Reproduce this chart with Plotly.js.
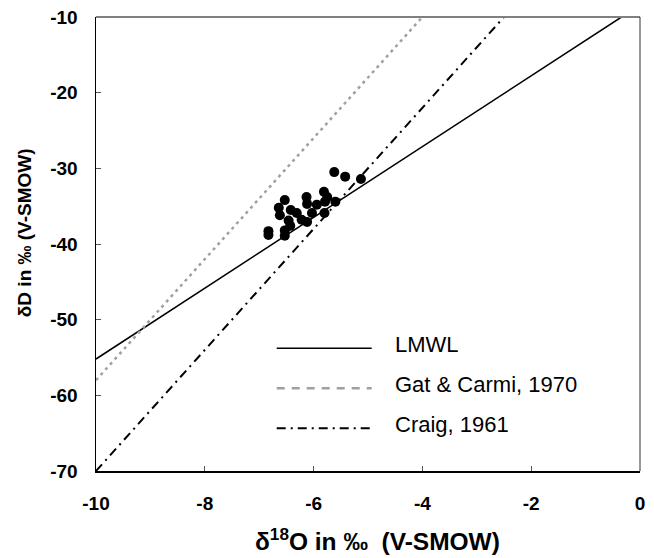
<!DOCTYPE html>
<html>
<head>
<meta charset="utf-8">
<script src="https://cdn.plot.ly/plotly-3.0.1.min.js"></script>
<style>html,body{margin:0;padding:0;background:#fff;}</style>
</head>
<body>
<div id="chart" style="width:654px;height:558px;"></div>
<script>
// Samples: delta18O and deltaD (permil, V-SMOW)
var sampleO18 = [-5.62, -5.42, -5.13, -6.53, -6.13, -5.81, -6.64, -6.42, -6.12, -5.94, -5.75, -5.60, -5.79,
                 -6.62, -6.31, -6.03, -5.80, -6.46, -6.22, -6.12, -6.83, -6.83, -6.53, -6.53, -6.43];
var sampleD   = [-30.5, -31.1, -31.4, -34.2, -33.8, -33.1, -35.2, -35.5, -34.7, -34.8, -33.8, -34.4, -34.4,
                 -36.2, -35.9, -35.9, -35.9, -36.9, -36.8, -37.1, -38.3, -38.8, -38.2, -38.9, -37.6];

// Water lines (end points)
var lmwlX  = [-10, -0.34];
var lmwlY  = [-55.2, -10];
var gatX   = [-10, -4];
var gatY   = [-58, -10];
var craigX = [-10, -2.5];
var craigY = [-70, -10];

var seriesNames = ['LMWL', 'Gat & Carmi, 1970', 'Craig, 1961'];

// Tick labels
var xTickVals = [-10, -8, -6, -4, -2, 0];
var xTickText = ['-10', '-8', '-6', '-4', '-2', '0'];
var yTickVals = [-70, -60, -50, -40, -30, -20, -10];
var yTickText = ['-70', '-60', '-50', '-40', '-30', '-20', '-10'];

var FONT = 'Liberation Sans, Arial, Helvetica, sans-serif';
var gatColor = '#a0a0a0';

var traces = [
  {x: lmwlX, y: lmwlY, mode: 'lines', name: seriesNames[0], showlegend: false,
   line: {color: '#000', width: 1.5}},
  {x: gatX, y: gatY, mode: 'lines', name: seriesNames[1], showlegend: false,
   line: {color: gatColor, width: 2.5, dash: '3px,4px'}},
  {x: craigX, y: craigY, mode: 'lines', name: seriesNames[2], showlegend: false,
   line: {color: '#000', width: 2, dash: '9px,5px,2px,5px'}},
  {x: sampleO18, y: sampleD, mode: 'markers', name: 'samples', showlegend: false,
   marker: {color: '#000', size: 10}}
];

// manual legend (long sample lines like the original)
var legX0 = 0.3322, legX1 = 0.5068, legTextX = 0.5465;
var legY = [0.2703, 0.1822, 0.0941];
var legStyles = [
  {color: '#000', width: 1.5, dash: 'solid'},
  {color: gatColor, width: 2.5, dash: '8px,7px'},
  {color: '#000', width: 2, dash: '9px,5px,2px,5px'}
];
var shapes = [
  {type: 'line', xref: 'paper', yref: 'paper', x0: 0, x1: 1, y0: 1, y1: 1,
   line: {color: '#808080', width: 2}},
  {type: 'line', xref: 'paper', yref: 'paper', x0: 1, x1: 1, y0: 0, y1: 1,
   line: {color: '#333', width: 1}}
];
var annotations = [];
for (var i = 0; i < seriesNames.length; i++) {
  shapes.push({type: 'line', xref: 'paper', yref: 'paper', x0: legX0, x1: legX1,
    y0: legY[i], y1: legY[i], line: legStyles[i]});
  annotations.push({xref: 'paper', yref: 'paper', x: legTextX, y: legY[i] + 0.009,
    xanchor: 'left', yanchor: 'middle', showarrow: false, text: seriesNames[i],
    font: {family: FONT, size: 22, color: '#000'}});
}
annotations.push({xref: 'paper', yref: 'paper', x: 0.518, y: -0.1498,
  xanchor: 'center', yanchor: 'middle', showarrow: false,
  text: '\u03b4<sup>18</sup>O in \u2030\u00a0 (V-SMOW)',
  font: {family: FONT, size: 24.5, color: '#000', weight: 'bold'}});
annotations.push({xref: 'paper', yref: 'paper', x: -0.1324, y: 0.526,
  xanchor: 'center', yanchor: 'middle', showarrow: false, textangle: -90,
  text: '\u03b4D in \u2030 (V-SMOW)',
  font: {family: FONT, size: 19, color: '#000', weight: 'bold'}});

var axisCommon = {
  showgrid: false, zeroline: false, showline: true, linecolor: '#000', linewidth: 1.5,
  ticks: 'inside', ticklen: 5, tickwidth: 1, tickcolor: '#555',
  tickfont: {family: FONT, size: 19, color: '#000', weight: 'bold'},
  mirror: false
};

var layout = {
  width: 654, height: 558,
  margin: {l: 96, r: 14, t: 17, b: 87, pad: 0},
  paper_bgcolor: '#fff', plot_bgcolor: '#fff',
  showlegend: false,
  xaxis: Object.assign({}, axisCommon, {range: [-10, 0], tickmode: 'array',
    tickvals: xTickVals, ticktext: xTickText, ticklabelstandoff: 15}),
  yaxis: Object.assign({}, axisCommon, {range: [-70, -10], tickmode: 'array',
    tickvals: yTickVals, ticktext: yTickText, ticklabelstandoff: 13}),
  shapes: shapes,
  annotations: annotations
};

Plotly.newPlot('chart', traces, layout, {displayModeBar: false, staticPlot: true});
</script>
</body>
</html>
